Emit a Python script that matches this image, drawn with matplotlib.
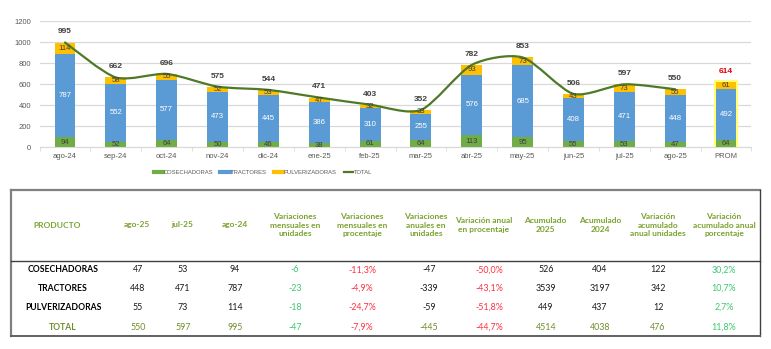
import matplotlib
matplotlib.use("Agg")
import matplotlib.pyplot as plt
from matplotlib.path import Path
from matplotlib.patches import PathPatch
from matplotlib.lines import Line2D
import numpy as np

# ---------------- data ----------------
months = ["ago-24", "sep-24", "oct-24", "nov-24", "dic-24", "ene-25", "feb-25",
          "mar-25", "abr-25", "may-25", "jun-25", "jul-25", "ago-25", "PROM"]
cosechadoras = [94, 52, 64, 50, 46, 38, 61, 64, 113, 95, 55, 53, 47, 64]
tractores = [787, 552, 577, 473, 445, 386, 310, 255, 576, 685, 408, 471, 448, 492]
pulverizadoras = [114, 58, 55, 52, 53, 47, 32, 33, 93, 73, 43, 73, 55, 61]
totales = [995, 662, 696, 575, 544, 471, 403, 352, 782, 853, 506, 597, 550, 614]

table_header = ["PRODUCTO", "ago-25", "jul-25", "ago-24",
                "Variaciones\nmensuales en\nunidades",
                "Variaciones\nmensuales en\nprocentaje",
                "Variaciones\nanuales en\nunidades",
                "Variación anual\nen procentaje",
                "Acumulado\n2025", "Acumulado\n2024",
                "Variación\nacumulado\nanual unidades",
                "Variación\nacumulado anual\nporcentaje"]
productos = ["COSECHADORAS", "TRACTORES", "PULVERIZADORAS", "TOTAL"]
col_ago25 = ["47", "448", "55", "550"]
col_jul25 = ["53", "471", "73", "597"]
col_ago24 = ["94", "787", "114", "995"]
col_var_mens_u = ["-6", "-23", "-18", "-47"]
col_var_mens_p = ["-11,3%", "-4,9%", "-24,7%", "-7,9%"]
col_var_anual_u = ["-47", "-339", "-59", "-445"]
col_var_anual_p = ["-50,0%", "-43,1%", "-51,8%", "-44,7%"]
col_acum25 = ["526", "3539", "449", "4514"]
col_acum24 = ["404", "3197", "437", "4038"]
col_var_acum_u = ["122", "342", "12", "476"]
col_var_acum_p = ["30,2%", "10,7%", "2,7%", "11,8%"]

# ---------------- figure ----------------
W, H = 771, 349
fig = plt.figure(figsize=(W / 100, H / 100), dpi=100)
fig.patch.set_facecolor("white")

def fx(x):
    return x / W

def fy(y):
    return 1 - y / H

C_COS = "#70AD47"
C_TRA = "#5B9BD5"
C_PUL = "#FFC000"
C_LINE = "#4E7A27"
C_TXT = "#404040"
C_GRAY = "#595959"

ax_l, ax_r, ax_b, ax_t = 39.6, 751.4, 147, 21
ax = fig.add_axes([fx(ax_l), fy(ax_b), (ax_r - ax_l) / W, (ax_b - ax_t) / H])
n = len(months)
x = np.arange(n)
bw = 0.41

ax.set_xlim(-0.5, n - 0.5)
ax.set_ylim(0, 1200)
ax.set_yticks(range(0, 1201, 200))
ax.yaxis.grid(True, color="#D9D9D9", lw=0.9)
ax.set_axisbelow(True)
for s in ["left", "right", "top"]:
    ax.spines[s].set_visible(False)
ax.spines["bottom"].set_color("#D9D9D9")
ax.tick_params(axis="y", length=0, labelsize=5.5, labelcolor=C_GRAY, pad=6)
ax.set_xticks(x)
ax.set_xticklabels(months)
ax.tick_params(axis="x", length=0, labelsize=5.5, labelcolor=C_GRAY, pad=4)
ax.set_xticks(np.arange(-0.5, n, 1), minor=True)
ax.tick_params(axis="x", which="minor", length=3, color="#D9D9D9")
for lab in ax.get_xticklabels() + ax.get_yticklabels():
    lab.set_family("Liberation Sans")

cos = np.array(cosechadoras)
tra = np.array(tractores)
pul = np.array(pulverizadoras)

# highlight glow on PROM bar
last = n - 1
ax.bar(x[last], cos[last] + tra[last] + pul[last], bw, color="none",
       edgecolor="#FFFF70", lw=3.0, zorder=1.5)

ax.bar(x, cos, bw, color=C_COS, zorder=2)
ax.bar(x, tra, bw, bottom=cos, color=C_TRA, zorder=2)
ax.bar(x, pul, bw, bottom=cos + tra, color=C_PUL, zorder=2)

fs_seg = 5.6
for i in range(n):
    ax.text(x[i], cos[i] / 2, str(cos[i]), ha="center", va="center",
            fontsize=fs_seg, color=C_TXT, family="Liberation Sans", zorder=4)
    ax.text(x[i], cos[i] + tra[i] / 2, str(tra[i]), ha="center", va="center",
            fontsize=fs_seg, color="white", family="Liberation Sans", zorder=4)
    ax.text(x[i], cos[i] + tra[i] + pul[i] / 2, str(pul[i]), ha="center", va="center",
            fontsize=fs_seg, color=C_TXT, family="Liberation Sans", zorder=4)
    top = cos[i] + tra[i] + pul[i] if i == last else totales[i]
    ax.annotate(str(totales[i]), (x[i], top), xytext=(0, 7.6), textcoords="offset points",
                ha="center", va="center", fontsize=6, fontweight="bold",
                color="#E00000" if i == last else C_TXT, family="Liberation Sans",
                zorder=4)

# smooth total line (cardinal spline -> cubic Bezier) over months only
lx = x[:last].astype(float)
ly = np.array(totales[:last], dtype=float)
pts = np.column_stack([lx, ly])
verts = [pts[0]]
codes = [Path.MOVETO]
m = len(pts)
k = 1.0 / 8.0
for i in range(m - 1):
    p0 = pts[i - 1] if i > 0 else pts[i]
    p1 = pts[i]
    p2 = pts[i + 1]
    p3 = pts[i + 2] if i + 2 < m else pts[i + 1]
    c1 = p1 + (p2 - p0) * k
    c2 = p2 - (p3 - p1) * k
    verts += [c1, c2, p2]
    codes += [Path.CURVE4] * 3
ax.add_patch(PathPatch(Path(verts, codes), facecolor="none", edgecolor=C_LINE,
                       lw=1.6, zorder=3, capstyle="round"))

# legend
handles = [Line2D([], [], color=C_COS, lw=3),
           Line2D([], [], color=C_TRA, lw=3),
           Line2D([], [], color=C_PUL, lw=3),
           Line2D([], [], color=C_LINE, lw=1.6)]
fig.legend(handles, ["COSECHADORAS", "TRACTORES", "PULVERIZADORAS", "TOTAL"],
           loc="center", bbox_to_anchor=(fx(263), fy(172)), ncol=4, frameon=False,
           prop={"family": "Liberation Sans", "size": 4.2}, handlelength=1.6,
           handletextpad=0.15, columnspacing=1.2, labelcolor=C_GRAY)

# ---------------- table ----------------
def hline(y, x0, x1, color, lw):
    fig.add_artist(Line2D([fx(x0), fx(x1)], [fy(y), fy(y)], color=color, lw=lw))

def vline(xx, y0, y1, color, lw):
    fig.add_artist(Line2D([fx(xx), fx(xx)], [fy(y0), fy(y1)], color=color, lw=lw))

hline(189.5, 11, 760, "#808080", 1.6)
vline(11, 189.5, 336, "#808080", 1.6)
vline(760, 189.5, 336, "#404040", 1.0)
hline(336, 11, 760, "#606060", 1.4)
hline(260.5, 11, 760, "#404040", 1.0)

C_HEAD = "#7AA22E"
C_OLIVE = "#6E8E2A"
C_LGREEN = "#3CC86E"
C_RED = "#FF3040"
TF = "Lato"

head_x = [57, 137, 182, 235, 295, 362, 426, 484, 545, 600, 658, 724]
for hx, txt in zip(head_x, table_header):
    fig.text(fx(hx), fy(225), txt, ha="center", va="center", fontsize=6,
             fontweight="bold", color=C_HEAD, family=TF, linespacing=1.25)

row_y = [270, 288.5, 307, 327]
col_x = [138, 183, 235, 295, 362, 429, 489, 546, 600, 658, 724]
cols = [col_ago25, col_jul25, col_ago24, col_var_mens_u, col_var_mens_p,
        col_var_anual_u, col_var_anual_p, col_acum25, col_acum24,
        col_var_acum_u, col_var_acum_p]
col_colors = ["k", "k", "k", C_LGREEN, C_RED, "k", C_RED, "k", "k", "k", C_LGREEN]

for r, (ry, name) in enumerate(zip(row_y, productos)):
    is_total = r == len(productos) - 1
    fig.text(fx(63), fy(ry), name, ha="center", va="center", fontsize=6.2,
             fontweight="bold", color=C_OLIVE if is_total else "black", family=TF)
    for cx, col, cc in zip(col_x, cols, col_colors):
        color = cc
        if is_total and cc == "k":
            color = C_OLIVE
        if color == "k":
            color = "#1a1a1a"
        fig.text(fx(cx), fy(ry), col[r], ha="center", va="center", fontsize=6.4,
                 color=color, family=TF)

fig.savefig("out.png", dpi=100)
